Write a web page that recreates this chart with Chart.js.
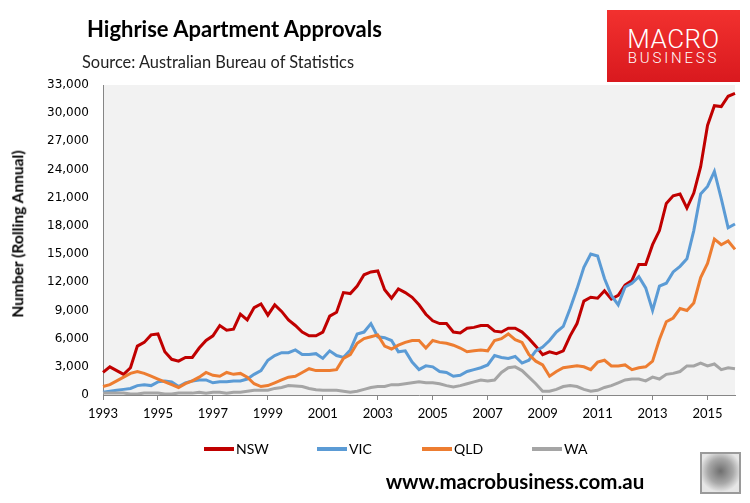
<!DOCTYPE html>
<html>
<head>
<meta charset="utf-8">
<script src="https://cdn.jsdelivr.net/npm/chart.js@4/dist/chart.umd.min.js"></script>
<style>
  body { margin: 0; background: #fff; }
  #wrap { position: relative; width: 750px; height: 503px; overflow: hidden; font-family: Lato, "Open Sans", sans-serif; }
  #chart { position: absolute; left: 0; top: 0; }
  .txt { position: absolute; white-space: nowrap; color: #000; line-height: 1; }
  #title { left: 87px; top: 17.5px; font-size: 22px; font-weight: bold; }
  #source { left: 82px; top: 53.5px; font-size: 16.4px; color: #222; }
  #logo { position: absolute; left: 607px; top: 10px; width: 133px; height: 72px;
          background: linear-gradient(#f2312f, #d9191e); text-align: center; color: #fff; font-family: Roboto, sans-serif; }
  #logo .m { position: absolute; left: 0; width: 100%; top: 16px; font-size: 26px; font-weight: 300; letter-spacing: 0.5px; line-height: 1; }
  #logo .b { position: absolute; left: 0; width: 100%; top: 41px; font-size: 15px; font-weight: 300; letter-spacing: 2.8px; line-height: 1; }
  #ytitle { left: 18px; top: 234px; font-size: 15.5px; font-weight: bold; transform: translate(-50%, -50%) rotate(-90deg); }
  .leg { position: absolute; top: 441px; height: 16px; font-size: 14px; line-height: 16px; }
  .leg i { position: absolute; left: 0; top: 6px; width: 30px; height: 4px; }
  .leg span { position: absolute; left: 32px; top: 0; }
  #footer { left: 515px; top: 471px; font-size: 20.5px; font-weight: bold; transform: translateX(-50%); }
  #wolf { position: absolute; left: 700px; top: 452px; width: 37px; height: 38px; border: 2px solid #9a9a9a;
          background: radial-gradient(circle at 50% 45%, #6f6f6f 0, #a8a8a8 45%, #e6e6e6 75%); }
</style>
</head>
<body>
<div id="wrap">
  <canvas id="chart" width="750" height="503"></canvas>
  <div class="txt" id="title">Highrise Apartment Approvals</div>
  <div class="txt" id="source">Source: Australian Bureau of Statistics</div>
  <div id="logo"><div class="m">MACRO</div><div class="b">BUSINESS</div></div>
  <div class="txt" id="ytitle">Number (Rolling Annual)</div>
  <div id="legend"></div>
  <div class="txt" id="footer">www.macrobusiness.com.au</div>
  <div id="wolf"></div>
</div>
<script>
// Quarterly readings, Jan 1993 .. Jan 2016 (rolling annual approvals)
const firstYear = 1993;
const tickYears = ['1993', '1995', '1997', '1999', '2001', '2003', '2005', '2007', '2009', '2011', '2013', '2015'];
const seriesNames = ['NSW', 'VIC', 'QLD', 'WA'];
const seriesColors = ['#c00000', '#5b9bd5', '#ed7d31', '#a5a5a5'];

const nsw = [2400, 3000, 2600, 2200, 2900, 5200, 5600, 6400, 6500, 4600, 3800, 3600, 4000, 4000, 5000, 5800, 6300, 7400, 6900, 7000, 8600, 8000, 9300, 9700, 8500,
  9600, 8900, 8000, 7400, 6700, 6300, 6300, 6700, 8400, 8800, 10900, 10800, 11600, 12800, 13100, 13200, 11200, 10300, 11300, 10900, 10400, 9600, 8600, 7900,
  7600, 7600, 6700, 6600, 7100, 7200, 7400, 7400, 6800, 6700, 7100, 7100, 6700, 6000, 5200, 4300, 4600, 4400, 4700, 6300, 7600, 10000, 10400,
  10300, 11100, 10200, 10600, 11700, 12200, 13900, 13900, 16000, 17500, 20400, 21200, 21400, 19900, 21500, 24300, 28700, 30800, 30700, 31800, 32100];

const vic = [300, 400, 500, 600, 700, 1000, 1100, 1000, 1400, 1500, 1400, 900, 1300, 1500, 1600, 1600, 1300, 1400, 1400, 1500, 1500, 1700, 2200, 2600, 3700,
  4200, 4500, 4500, 4800, 4300, 4300, 4400, 3900, 4700, 4200, 4000, 4800, 6500, 6700, 7600, 6200, 6100, 5800, 4600, 4700, 3500, 2700, 3100, 3000,
  2500, 2400, 2000, 2100, 2500, 2700, 2900, 3200, 4200, 4000, 3900, 4100, 3400, 3700, 4700, 5100, 5800, 6700, 7300, 9200, 11300, 13600, 15000,
  14800, 12400, 10600, 9600, 11500, 11900, 12600, 11400, 9000, 11600, 11900, 13100, 13700, 14500, 17500, 21400, 22200, 23800, 20900, 17800, 18200];

const qld = [900, 1100, 1500, 1900, 2300, 2500, 2300, 2000, 1700, 1400, 1100, 800, 1200, 1500, 1900, 2400, 2100, 2000, 2400, 2200, 2300, 1900, 1200, 900, 1000,
  1300, 1600, 1900, 2000, 2400, 2800, 2600, 2600, 2600, 2700, 3900, 4300, 5500, 6000, 6200, 6400, 5200, 4900, 5300, 5600, 5800, 5800, 5000, 5800,
  5600, 5500, 5300, 5000, 4600, 4700, 4800, 4700, 5800, 6000, 6500, 5900, 5600, 4300, 3600, 3200, 2000, 2500, 2900, 3000, 3100, 3000, 2700,
  3500, 3700, 3100, 3100, 3200, 2700, 2900, 3000, 3600, 5900, 7800, 8200, 9200, 9000, 9800, 12500, 14000, 16600, 16000, 16400, 15500];

const wa = [200, 200, 200, 200, 100, 100, 200, 200, 200, 100, 100, 200, 200, 200, 300, 200, 300, 300, 200, 300, 300, 400, 500, 500, 500,
  700, 800, 1000, 950, 900, 700, 550, 500, 500, 500, 400, 300, 400, 600, 800, 900, 900, 1100, 1100, 1200, 1300, 1400, 1300, 1300,
  1200, 1000, 850, 1000, 1200, 1400, 1600, 1500, 1600, 2400, 2900, 3000, 2600, 1900, 1200, 400, 400, 600, 900, 1000, 900, 600, 400,
  500, 800, 1000, 1300, 1600, 1700, 1700, 1500, 1900, 1700, 2200, 2300, 2500, 3100, 3100, 3400, 3100, 3300, 2700, 2900, 2800];

const allSeries = [nsw, vic, qld, wa];

// category labels: one per quarter
const quarters = nsw.map((v, i) => {
  const y = firstYear + Math.floor(i / 4);
  return y + ' Q' + (i % 4 + 1);
});

// legend (html)
const legendX = [204, 317, 422, 532];
const legendBox = document.getElementById('legend');
seriesNames.forEach((name, i) => {
  const d = document.createElement('div');
  d.className = 'leg';
  d.style.left = legendX[i] + 'px';
  d.innerHTML = '<i style="background:' + seriesColors[i] + '"></i><span>' + name + '</span>';
  legendBox.appendChild(d);
});

// grey plot background
const plotBg = {
  id: 'plotBg',
  beforeDraw(chart) {
    const a = chart.chartArea;
    const ctx = chart.ctx;
    ctx.save();
    ctx.fillStyle = '#f2f2f2';
    ctx.fillRect(a.left, a.top, a.right - a.left, a.bottom - a.top);
    ctx.restore();
  }
};

const ctx = document.getElementById('chart').getContext('2d');
new Chart(ctx, {
  type: 'line',
  data: {
    labels: quarters,
    datasets: allSeries.map((s, i) => ({
      label: seriesNames[i],
      data: s,
      borderColor: seriesColors[i],
      backgroundColor: seriesColors[i],
      borderWidth: 3,
      pointRadius: 0,
      tension: 0,
      order: 4 - i
    }))
  },
  options: {
    responsive: false,
    animation: false,
    layout: { padding: { top: 85, right: 15, left: 0, bottom: 0 } },
    plugins: { legend: { display: false }, tooltip: { enabled: false } },
    scales: {
      x: {
        type: 'category',
        offset: false,
        afterFit(scale) { scale.height = 108; },
        grid: {
          display: true,
          drawOnChartArea: false,
          drawTicks: true,
          tickLength: 5,
          color: (c) => (c.index % 8 === 0 ? '#868686' : 'rgba(0,0,0,0)')
        },
        border: { display: true, color: '#868686', width: 1 },
        ticks: {
          autoSkip: false,
          maxRotation: 0,
          minRotation: 0,
          padding: 6,
          color: '#000',
          font: { family: 'Lato', size: 13 },
          callback: (v, i) => (i % 8 === 0 ? tickYears[i / 8] : '')
        }
      },
      y: {
        min: 0,
        max: 33000,
        afterFit(scale) { scale.width = 103; },
        grid: { display: false },
        border: { display: true, color: '#868686', width: 1 },
        ticks: {
          stepSize: 3000,
          padding: 6,
          color: '#000',
          font: { family: 'DejaVu Sans', size: 12 },
          callback: (v) => v.toLocaleString('en-US')
        }
      }
    }
  },
  plugins: [plotBg]
});
</script>
</body>
</html>
